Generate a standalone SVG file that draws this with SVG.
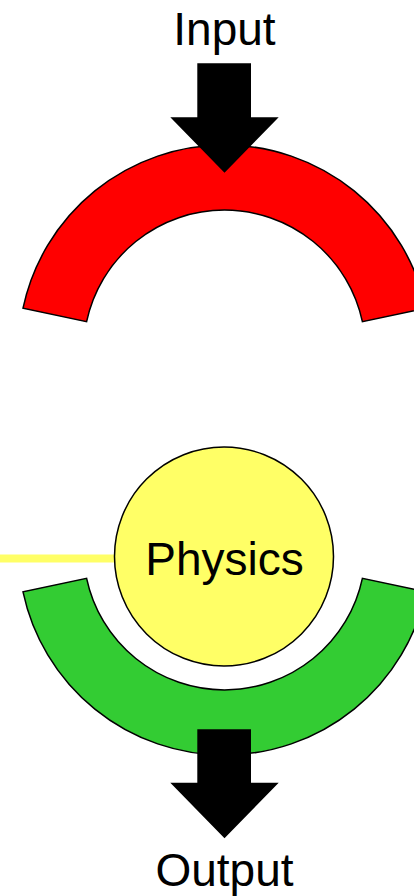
<svg xmlns="http://www.w3.org/2000/svg" width="414" height="896" viewBox="0 0 414 896">
<style>
.lbl{font-family:"Liberation Sans",Arial,sans-serif;font-size:46px;fill:#000;text-anchor:middle}
.arc{stroke:#000;stroke-width:1.5;stroke-linejoin:miter}
.blk{fill:#000;stroke:none}
</style>
<rect width="414" height="896" fill="#fff"/>
<g id="red-arc">
<path class="arc" fill="#ff0000" d="M 23 308.2 A 206 206 0 0 1 426 308.2 L 362.4 321.7 A 141 141 0 0 0 86.6 321.7 Z"/>
</g>
<g id="green-arc">
<path class="arc" fill="#33cc33" d="M 23 591.8 A 206 206 0 0 0 426 591.8 L 362.4 578.3 A 141 141 0 0 1 86.6 578.3 Z"/>
</g>
<g id="connectors">
<line x1="-10" y1="558.5" x2="120" y2="558.5" stroke="#ffff66" stroke-width="8"/>
<polygon class="blk" points="197.3,63.3 251,63.3 251,117.3 278.7,117.3 224.5,172.7 170.3,117.3 197.3,117.3"/>
<polygon class="blk" points="197.3,729.3 251,729.3 251,782.7 278.7,782.7 224.5,838.3 170.3,782.7 197.3,782.7"/>
</g>
<g id="physics">
<circle cx="224" cy="556.5" r="109.5" fill="#ffff66" stroke="#000" stroke-width="1.5"/>
<text class="lbl" x="224.5" y="575">Physics</text>
</g>
<g id="input">
<text class="lbl" x="224.5" y="45">Input</text>
</g>
<g id="output">
<text class="lbl" x="224.5" y="886">Output</text>
</g>
</svg>
